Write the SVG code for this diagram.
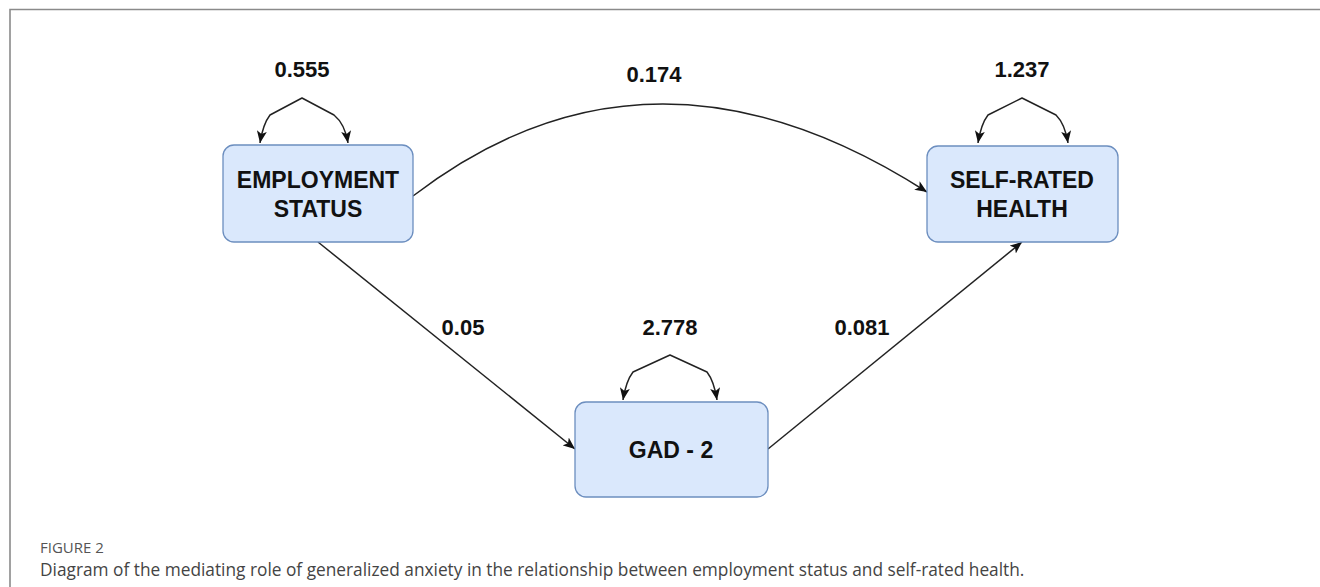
<svg xmlns="http://www.w3.org/2000/svg" width="1320" height="587" viewBox="0 0 1320 587">
<style>
.box{fill:#dae8fc;stroke:#6c8ebf;stroke-width:1.3}
.lbl{font-family:"Liberation Sans",Arial,sans-serif;font-weight:bold;font-size:23px;fill:#111;text-anchor:middle}
.num{font-family:"Liberation Sans",Arial,sans-serif;font-weight:bold;font-size:22px;fill:#111;text-anchor:middle}
.edge{fill:none;stroke:#222;stroke-width:1.5;stroke-linejoin:round}
.frame{stroke:#8a8a8a;stroke-width:1.6;fill:none}
.fig{font-family:"Open Sans","Noto Sans",sans-serif;font-size:15px;fill:#555;font-weight:500}
.cap{font-family:"Open Sans","Noto Sans",sans-serif;font-size:17.3px;fill:#444}
</style>
<defs>
<marker id="arr" viewBox="0 0 12 10" refX="12" refY="5" markerWidth="12" markerHeight="10" markerUnits="userSpaceOnUse" orient="auto-start-reverse">
<path d="M0,0 L12,5 L0,10 L3,5 z" fill="#111"/>
</marker>
</defs>
<rect width="1320" height="587" fill="#fff"/>
<path class="frame" d="M10,587 L10,9.5 L1320,9.5"/>
<g id="connectors">
<path class="edge" d="M413,196 Q650,14 927,192" marker-end="url(#arr)"/>
<path class="edge" d="M318,242 L575,449" marker-end="url(#arr)"/>
<path class="edge" d="M768,449 L1022,242" marker-end="url(#arr)"/>
<path class="edge" d="M260,143 Q263,124 270,115 L302,98 L334,115 Q345,124 348,143" marker-start="url(#arr)" marker-end="url(#arr)"/>
<path class="edge" d="M978,143 Q981,124 988,115 L1022,98 L1056,115 Q1065,124 1068,143" marker-start="url(#arr)" marker-end="url(#arr)"/>
<path class="edge" d="M623,400 Q626,381 633,372 L670,355 L707,372 Q714,381 717,400" marker-start="url(#arr)" marker-end="url(#arr)"/>
<text class="num" x="302" y="77">0.555</text>
<text class="num" x="654" y="82">0.174</text>
<text class="num" x="1022" y="77">1.237</text>
<text class="num" x="463" y="335">0.05</text>
<text class="num" x="670" y="335">2.778</text>
<text class="num" x="862" y="335">0.081</text>
</g>
<g id="employment">
<rect class="box" x="223" y="145" width="190" height="97" rx="11"/>
<text class="lbl" x="318" y="188">EMPLOYMENT</text>
<text class="lbl" x="318" y="217">STATUS</text>
</g>
<g id="selfrated">
<rect class="box" x="927" y="146" width="191" height="96" rx="11"/>
<text class="lbl" x="1022" y="188">SELF-RATED</text>
<text class="lbl" x="1022" y="217">HEALTH</text>
</g>
<g id="gad">
<rect class="box" x="575" y="402" width="193" height="95" rx="11"/>
<text class="lbl" x="671" y="458">GAD - 2</text>
</g>
<text class="fig" x="40" y="553">FIGURE 2</text>
<text class="cap" x="40" y="576">Diagram of the mediating role of generalized anxiety in the relationship between employment status and self-rated health.</text>
</svg>
